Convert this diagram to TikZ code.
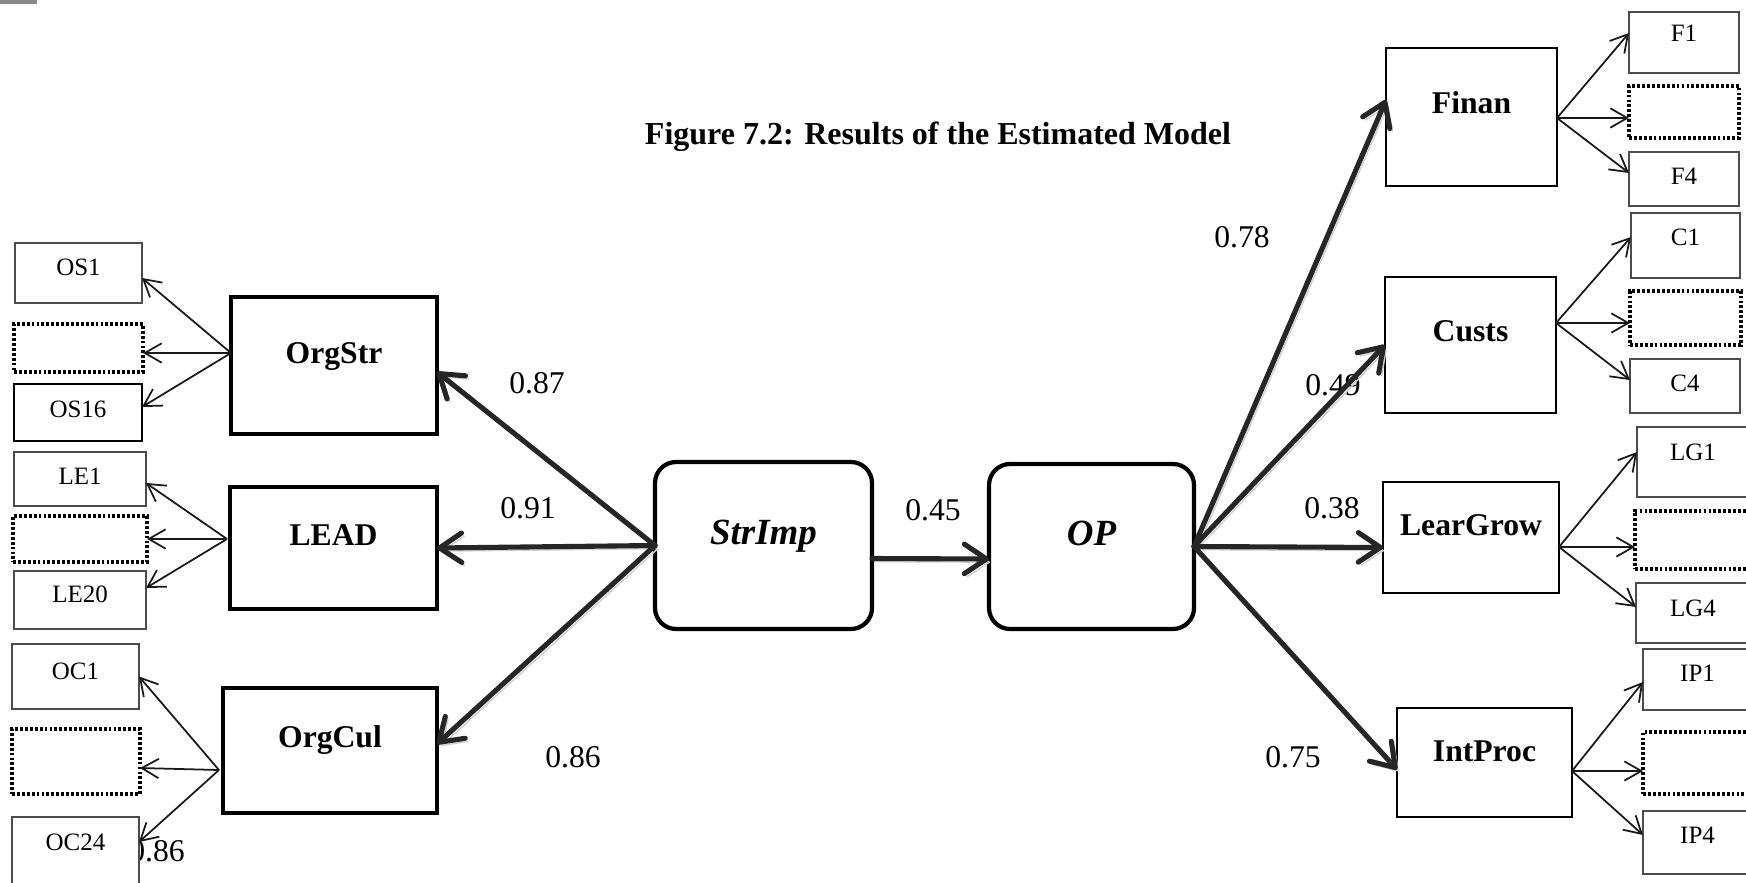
\documentclass[tikz,border=0pt]{standalone}
\usepackage{fontspec}
\setmainfont{Liberation Serif}
\usetikzlibrary{arrows.meta,calc}

\tikzset{
  wh/.style 2 args={minimum width=#1*0.01cm, minimum height=#2*0.01cm},
  box/.style={draw, fill=white, inner sep=0pt, outer sep=0pt},
  item/.style={box, draw=black!70, line width=0.45pt},
  itemthick/.style={box, line width=0.85pt},
  hiddenitem/.style={box, line width=1pt, dash pattern=on 0.8pt off 0.6pt},
  factor/.style={box, line width=1.1pt},
  dimbox/.style={box, line width=0.6pt},
  core/.style={box, line width=1.2pt, rounded corners=6pt},
  itemtext/.style={font=\fontsize{7.1}{8.5}\selectfont, inner sep=0pt, text height=4.7pt, text depth=0pt},
  factortext/.style={font=\fontsize{9}{11}\selectfont\bfseries, inner sep=0pt, text height=6pt, text depth=0pt},
  coretext/.style={font=\fontsize{10.5}{12}\selectfont\bfseries\itshape, inner sep=0pt, text height=7pt, text depth=0pt},
  titletext/.style={font=\fontsize{9.1}{11}\selectfont\bfseries, inner sep=0pt},
  coef/.style={font=\fontsize{9}{11}\selectfont, inner sep=0pt},
  load/.style={line width=0.5pt, draw=black!90, -{Straight Barb[length=4.8pt,width=5.5pt]}},
  effect/.style={draw=black!85, line width=1.45pt, line cap=round,
    -{Straight Barb[length=6.3pt,width=8.4pt,round]},
    preaction={draw=black!18, transform canvas={shift={(0.8pt,-0.9pt)}}}},
}

\begin{document}
\begin{tikzpicture}[x=0.01cm, y=-0.01cm]
\useasboundingbox (0,0) rectangle (1746,882);
\fill[black!45] (0,0) rectangle (37,4);

% heading
\node[titletext] (title) at (938,137) {Figure 7.2: Results of the Estimated Model};

% path coefficients (set first, boxes may overlap them)
\node[coef] (k87) at (537,383) {0.87};
\node[coef] (k91) at (528,508) {0.91};
\node[coef] (k86) at (573,757) {0.86};
\node[coef] (k86b) at (157,851) {0.86};
\node[coef] (k45) at (933,510) {0.45};
\node[coef] (k78) at (1242,237) {0.78};
\node[coef] (k49) at (1333,385) {0.49};
\node[coef] (k38) at (1332,508) {0.38};
\node[coef] (k75) at (1293,757) {0.75};

% ---------- left block ----------
\node[item, wh={127}{60}] (OS1) at (78.5,273) {};
\node[hiddenitem, wh={129}{48}] (OSd) at (78.5,348) {};
\node[itemthick, wh={128}{57}] (OS16) at (78,412.5) {};
\node[factor, wh={206}{137}] (OrgStr) at (334,365.5) {};

\node[item, wh={132}{54}] (LE1) at (80,479) {};
\node[hiddenitem, wh={134}{46}] (LEd) at (80,539) {};
\node[item, wh={132}{58}] (LE20) at (80,600) {};
\node[factor, wh={207}{122}] (LEAD) at (333.5,548) {};

\node[item, wh={127}{65}] (OC1) at (75.5,676.5) {};
\node[hiddenitem, wh={128}{65}] (OCd) at (76,761.5) {};
\node[item, wh={127}{73}] (OC24) at (75.5,853.5) {};
\node[factor, wh={214}{125}] (OrgCul) at (330,750.5) {};

% ---------- centre ----------
\node[core, wh={217}{167}] (StrImp) at (763.5,545.5) {};
\node[core, wh={205}{165}] (OP) at (1091.5,546.5) {};

% ---------- right block ----------
\node[dimbox, wh={171}{138}] (Finan) at (1471.5,117) {};
\node[item, wh={110}{61}] (F1) at (1684,42.5) {};
\node[hiddenitem, wh={110}{52}] (Fd) at (1684,112) {};
\node[item, wh={110}{54}] (F4) at (1684,179) {};

\node[dimbox, wh={171}{136}] (Custs) at (1470.5,345) {};
\node[item, wh={109}{65}] (C1) at (1685.5,245.5) {};
\node[hiddenitem, wh={111}{54}] (Cd) at (1685.5,318) {};
\node[item, wh={110}{54}] (C4) at (1685,386) {};

\node[dimbox, wh={176}{111}] (LearGrow) at (1471,537.5) {};
\node[item, wh={112}{70}] (LG1) at (1693,462) {};
\node[hiddenitem, wh={115}{58}] (LGd) at (1692.5,540) {};
\node[item, wh={114}{60}] (LG4) at (1693,613) {};

\node[dimbox, wh={175}{109}] (IntProc) at (1484.5,762.5) {};
\node[item, wh={109}{61}] (IP1) at (1697.5,679.5) {};
\node[hiddenitem, wh={109}{62}] (IPd) at (1697.5,763) {};
\node[item, wh={109}{63}] (IP4) at (1697.5,842.5) {};

% ---------- box captions ----------
\node[itemtext] (OS1t) at ($(OS1.north)!0.4!(OS1.south)$) {OS1};
\node[itemtext] (OS16t) at ($(OS16.north)!0.45!(OS16.south)$) {OS16};
\node[itemtext] (LE1t) at ($(LE1.north)!0.45!(LE1.south)$) {LE1};
\node[itemtext] (LE20t) at ($(LE20.north)!0.4!(LE20.south)$) {LE20};
\node[itemtext] (OC1t) at ($(OC1.north)!0.42!(OC1.south)$) {OC1};
\node[itemtext] (OC24t) at (75.5,842) {OC24};
\node[itemtext] (F1t) at ($(F1.north)!0.35!(F1.south)$) {F1};
\node[itemtext] (F4t) at ($(F4.north)!0.45!(F4.south)$) {F4};
\node[itemtext] (C1t) at ($(C1.north)!0.37!(C1.south)$) {C1};
\node[itemtext] (C4t) at ($(C4.north)!0.44!(C4.south)$) {C4};
\node[itemtext] (LG1t) at ($(LG1.north)!0.36!(LG1.south)$) {LG1};
\node[itemtext] (LG4t) at ($(LG4.north)!0.42!(LG4.south)$) {LG4};
\node[itemtext] (IP1t) at ($(IP1.north)!0.39!(IP1.south)$) {IP1};
\node[itemtext] (IP4t) at ($(IP4.north)!0.38!(IP4.south)$) {IP4};

\node[factortext] (OrgStrt) at ($(OrgStr.north)!0.41!(OrgStr.south)$) {OrgStr};
\node[factortext] (LEADt) at ($(LEAD.north)!0.39!(LEAD.south)$) {LEAD};
\node[factortext] (OrgCult) at ($(OrgCul.north)!0.39!(OrgCul.south)$) {OrgCul};
\node[factortext] (Finant) at ($(Finan.north)!0.4!(Finan.south)$) {Finan};
\node[factortext] (Custst) at ($(Custs.north)!0.4!(Custs.south)$) {Custs};
\node[factortext] (LearGrowt) at ($(LearGrow.north)!0.39!(LearGrow.south)$) {LearGrow};
\node[factortext] (IntProct) at ($(IntProc.north)!0.39!(IntProc.south)$) {IntProc};
\node[coretext] (StrImpt) at ($(StrImp.north)!0.42!(StrImp.south)$) {StrImp};
\node[coretext] (OPt) at ($(OP.north)!0.42!(OP.south)$) {OP};

% ---------- structural paths ----------
\draw[effect] (StrImp.west) -- ($(OrgStr.east)+(0,6.5)$);
\draw[effect] (StrImp.west) -- (LEAD.east);
\draw[effect] (StrImp.west) -- ($(OrgCul.east)+(0,-6.5)$);
\draw[effect] ($(StrImp.east)+(0,13)$) -- ($(OP.west)+(0,12.5)$);
\draw[effect] (OP.east) -- ($(Finan.west)+(0,-17)$);
\draw[effect] (OP.east) -- (Custs.west);
\draw[effect] (OP.east) -- ($(LearGrow.west)+(0,10)$);
\draw[effect] (OP.east) -- ($(IntProc.west)+(0,7)$);

% ---------- loadings ----------
\coordinate (OrgStrS) at ($(OrgStr.west)+(0,-12.5)$);
\draw[load] (OrgStrS) -- ($(OS1.east)+(0,5)$);
\draw[load] (OrgStrS) -- ($(OSd.east)+(0,5)$);
\draw[load] (OrgStrS) -- ($(OS16.east)+(0,-5.5)$);

\coordinate (LEADS) at ($(LEAD.west)+(-3,-9)$);
\draw[load] (LEADS) -- ($(LE1.east)+(0,4)$);
\draw[load] (LEADS) -- (LEd.east);
\draw[load] (LEADS) -- ($(LE20.east)+(0,-12)$);

\coordinate (OrgCulS) at ($(OrgCul.west)+(-4,19.5)$);
\draw[load] (OrgCulS) -- (OC1.east);
\draw[load] (OrgCulS) -- ($(OCd.east)+(0,6.5)$);
\draw[load] (OrgCulS) -- ($(OC24.east)+(0,-11.5)$);

\coordinate (FinanS) at ($(Finan.east)+(0,1)$);
\draw[load] (FinanS) -- ($(F1.west)+(0,-9.5)$);
\draw[load] (FinanS) -- ($(Fd.west)+(0,6)$);
\draw[load] (FinanS) -- ($(F4.west)+(0,-6)$);

\coordinate (CustsS) at ($(Custs.east)+(0,-22)$);
\draw[load] (CustsS) -- ($(C1.west)+(0,-8.5)$);
\draw[load] (CustsS) -- ($(Cd.west)+(0,5)$);
\draw[load] (CustsS) -- ($(C4.west)+(0,-6)$);

\coordinate (LearGrowS) at ($(LearGrow.east)+(0,9.5)$);
\draw[load] (LearGrowS) -- ($(LG1.west)+(0,-10)$);
\draw[load] (LearGrowS) -- ($(LGd.west)+(0,7)$);
\draw[load] (LearGrowS) -- ($(LG4.west)+(0,-6)$);

\coordinate (IntProcS) at ($(IntProc.east)+(0,8.5)$);
\draw[load] (IntProcS) -- ($(IP1.west)+(0,2.5)$);
\draw[load] (IntProcS) -- ($(IPd.west)+(0,8)$);
\draw[load] (IntProcS) -- ($(IP4.west)+(0,-7.5)$);
\end{tikzpicture}
\end{document}
